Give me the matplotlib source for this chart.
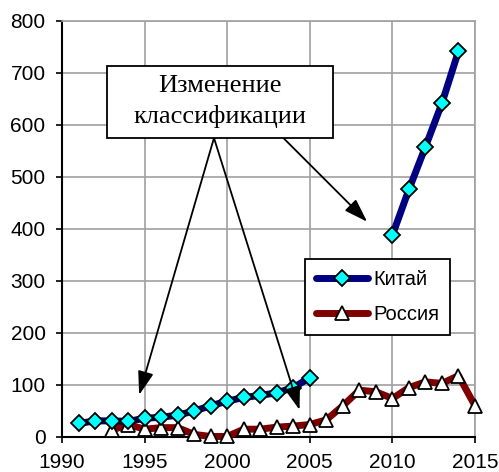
import matplotlib
matplotlib.use("Agg")
import matplotlib.pyplot as plt
from matplotlib.patches import FancyArrowPatch, Rectangle

china_years_a = [1991, 1992, 1993, 1994, 1995, 1996, 1997, 1998, 1999, 2000, 2001, 2002, 2003, 2004, 2005]
china_vals_a = [26, 31, 31, 30, 36, 38, 42, 50, 60, 69, 76, 80, 85, 95, 114]
china_years_b = [2010, 2011, 2012, 2013, 2014]
china_vals_b = [388, 476, 558, 642, 742]
russia_years = [1993, 1994, 1995, 1996, 1997, 1998, 1999, 2000, 2001, 2002, 2003, 2004,
                2005, 2006, 2007, 2008, 2009, 2010, 2011, 2012, 2013, 2014, 2015]
russia_vals = [13, 24, 15, 18, 18, 5, 1, 1, 15, 15, 19, 21,
               24, 33, 60, 90, 87, 74, 95, 106, 103, 118, 60]
xticks = [1990, 1995, 2000, 2005, 2010, 2015]
yticks = [0, 100, 200, 300, 400, 500, 600, 700, 800]
note = "Изменение\nклассификации"

plt.rcParams['font.family'] = ['Liberation Sans', 'DejaVu Sans']
fig = plt.figure(figsize=(4.99, 4.72), dpi=100)
ax = fig.add_axes([62/499, 1-437/472, 413/499, 416/472])

ax.set_xlim(1990, 2015)
ax.set_ylim(0, 800)
ax.set_xticks(xticks)
ax.set_yticks(yticks)
ax.grid(True, color='#a0a0a0', linewidth=1.2)
ax.set_axisbelow(True)
for s in ['top', 'right']:
    ax.spines[s].set_color('#a0a0a0')
    ax.spines[s].set_linewidth(1.2)
for s in ['left', 'bottom']:
    ax.spines[s].set_color('black')
    ax.spines[s].set_linewidth(1.5)
ax.tick_params(direction='out', length=4.3, width=1.2, labelsize=15)
ax.tick_params(axis='y', pad=7.5)
ax.tick_params(axis='x', pad=7)

ax.plot(russia_years, russia_vals, color='#800000', lw=5, solid_joinstyle='round',
        solid_capstyle='round', marker='^', ms=9.5, mfc='white', mec='black', mew=1.3,
        label='Россия', zorder=3, clip_on=False)
ax.plot(china_years_a, china_vals_a, color='#000080', lw=5, solid_joinstyle='round',
        solid_capstyle='round', marker='D', ms=8.5, mfc='#00ffff', mec='black', mew=1.3,
        label='Китай', zorder=4, clip_on=False)
ax.plot(china_years_b, china_vals_b, color='#000080', lw=5, solid_joinstyle='round',
        solid_capstyle='round', marker='D', ms=8.5, mfc='#00ffff', mec='black', mew=1.3,
        zorder=4, clip_on=False)

handles, labels = ax.get_legend_handles_labels()
leg = ax.legend([handles[1], handles[0]], [labels[1], labels[0]],
                loc='upper left', bbox_to_anchor=(0.588, 0.428), fontsize=14.5,
                frameon=True, fancybox=False, framealpha=1, edgecolor='black',
                handlelength=2.6, handletextpad=0.25, borderpad=0.55, labelspacing=0.8,
                borderaxespad=0)
leg.get_frame().set_linewidth(1.3)
leg.set_zorder(6)

# annotation box
ax.add_patch(Rectangle((1992.7, 575), 2006.4 - 1992.7, 713 - 575, fc='white', ec='black',
                       lw=1.3, zorder=7))
ax.text(1999.55, 645, note, ha='center', va='center', fontsize=19,
        family=['Liberation Serif', 'DejaVu Serif'], linespacing=1.42, zorder=8)

arrows = [((1999.2, 575), (1994.67, 81)),
          ((1999.2, 575), (2004.38, 52)),
          ((2003.4, 575), (2008.47, 414))]
for (x0, y0), (x1, y1) in arrows:
    ax.add_patch(FancyArrowPatch((x0, y0), (x1, y1), arrowstyle='-|>,head_length=0.9,head_width=0.3',
                                 mutation_scale=16, color='black', lw=1.3, zorder=5,
                                 shrinkA=0, shrinkB=0))

fig.savefig('out.png', dpi=100)
